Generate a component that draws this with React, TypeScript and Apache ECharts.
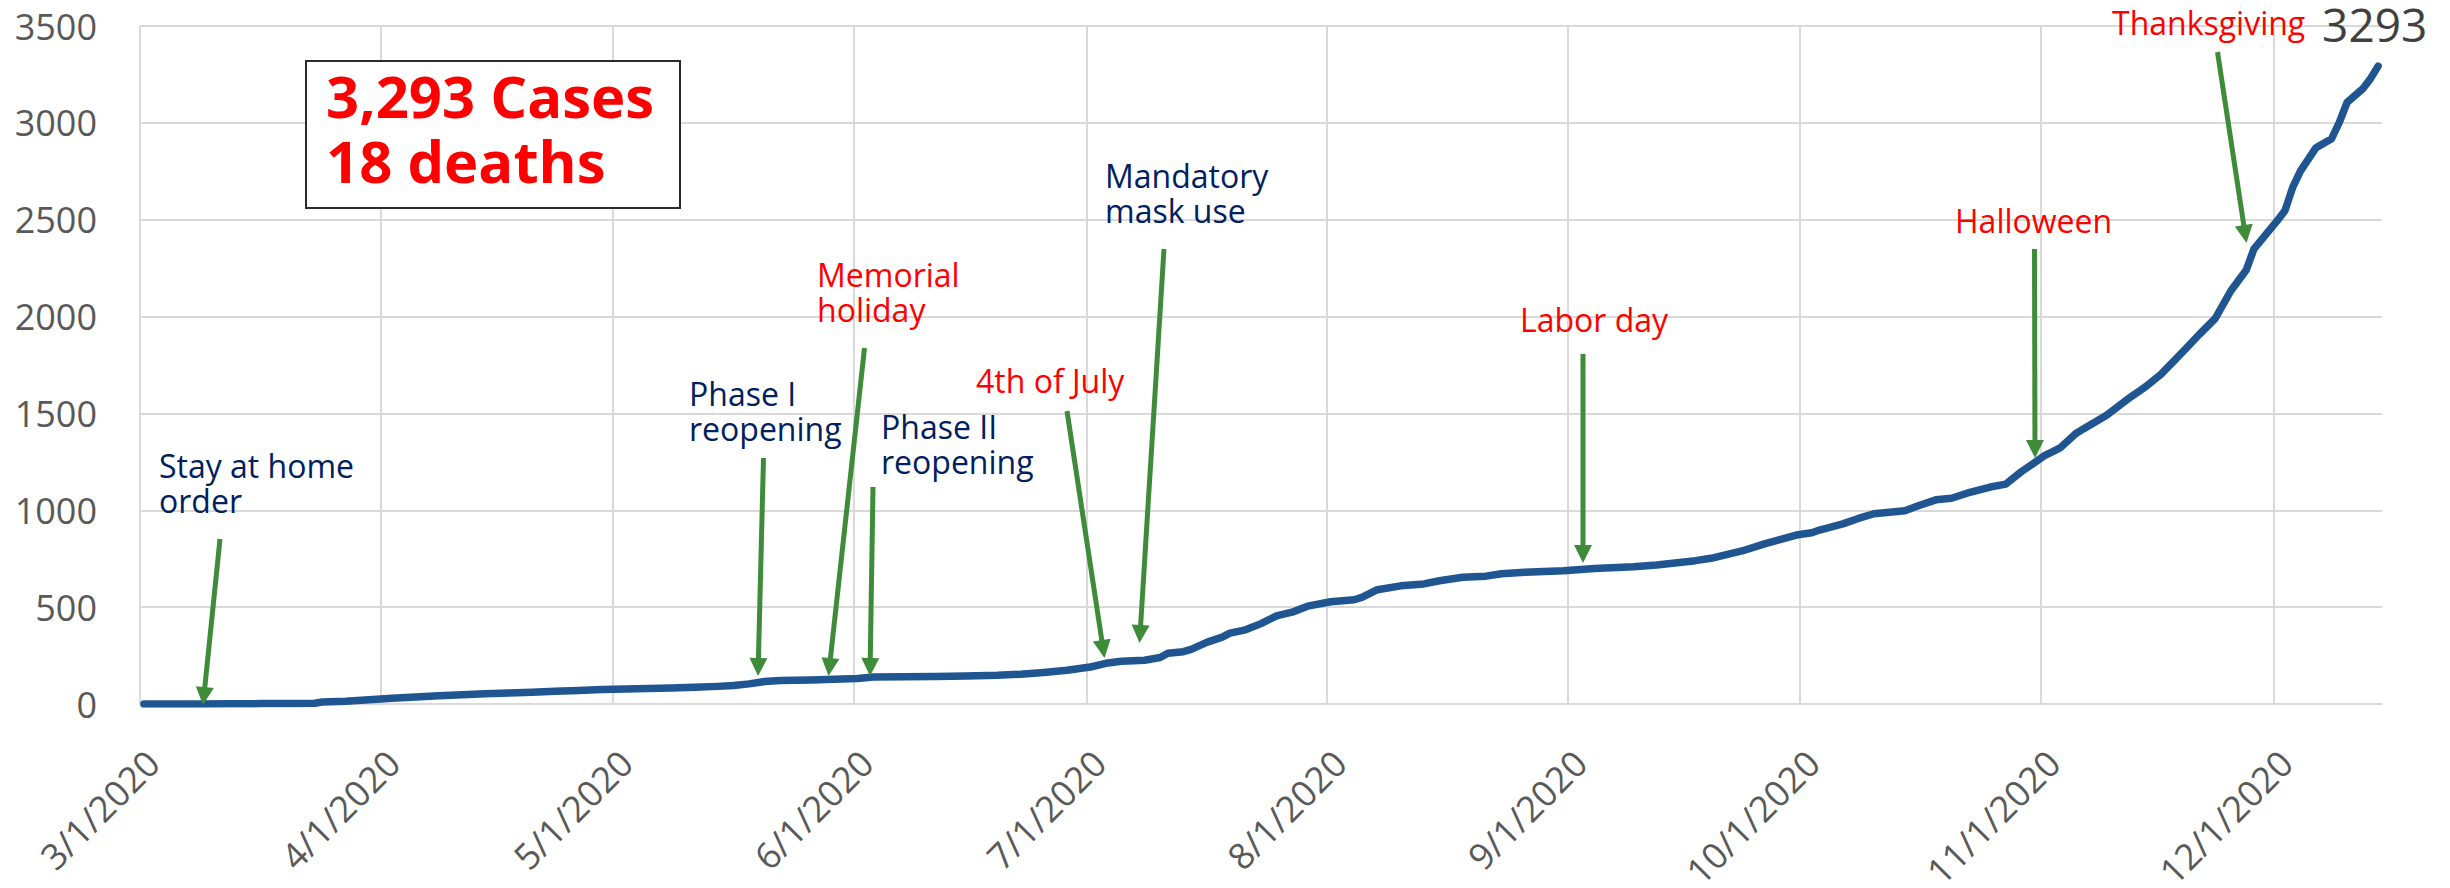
import React, { useEffect, useRef } from "react";
import * as echarts from "echarts";

const dates = [
  "2020-03-01", "2020-03-08", "2020-03-12", "2020-03-16", "2020-03-20", "2020-03-23", "2020-03-24", "2020-03-27", "2020-03-31",
  "2020-04-02", "2020-04-05", "2020-04-08", "2020-04-11", "2020-04-14", "2020-04-17", "2020-04-20", "2020-04-23", "2020-04-26", "2020-04-29",
  "2020-05-02", "2020-05-05", "2020-05-08", "2020-05-11", "2020-05-14", "2020-05-16", "2020-05-18", "2020-05-20", "2020-05-22", "2020-05-26", "2020-05-29",
  "2020-06-01", "2020-06-03", "2020-06-07", "2020-06-11", "2020-06-15", "2020-06-19", "2020-06-22", "2020-06-25", "2020-06-28",
  "2020-07-01", "2020-07-03", "2020-07-05", "2020-07-08", "2020-07-10", "2020-07-11", "2020-07-13", "2020-07-14", "2020-07-16", "2020-07-18", "2020-07-19", "2020-07-21", "2020-07-23", "2020-07-25", "2020-07-27", "2020-07-29",
  "2020-08-01", "2020-08-04", "2020-08-05", "2020-08-07", "2020-08-10", "2020-08-13", "2020-08-15", "2020-08-18", "2020-08-21", "2020-08-23", "2020-08-26", "2020-08-31",
  "2020-09-04", "2020-09-09", "2020-09-12", "2020-09-17", "2020-09-19", "2020-09-23", "2020-09-26", "2020-09-28", "2020-09-30",
  "2020-10-02", "2020-10-03", "2020-10-06", "2020-10-08", "2020-10-10", "2020-10-14", "2020-10-16", "2020-10-18", "2020-10-20", "2020-10-22", "2020-10-25", "2020-10-27", "2020-10-29",
  "2020-11-01", "2020-11-02", "2020-11-03", "2020-11-05", "2020-11-06", "2020-11-09", "2020-11-12", "2020-11-14", "2020-11-16", "2020-11-19", "2020-11-21", "2020-11-23", "2020-11-25", "2020-11-27", "2020-11-28",
  "2020-12-01", "2020-12-02", "2020-12-03", "2020-12-04", "2020-12-06", "2020-12-08", "2020-12-09", "2020-12-10", "2020-12-12", "2020-12-13", "2020-12-14",
];

const cases = [
  0, 0, 1, 2, 3, 4, 10, 14, 24,
  30, 36, 43, 48, 53, 57, 61, 66, 70, 75,
  78, 80, 83, 86, 91, 95, 104, 116, 121, 124, 128,
  132, 139, 141, 142, 144, 148, 154, 163, 174,
  191, 210, 221, 226, 240, 262, 270, 282, 318, 345, 366, 383, 415, 455, 474, 505,
  528, 538, 550, 590, 610, 620, 636, 654, 660, 672, 680, 688,
  699, 708, 718, 740, 752, 790, 828, 850, 872,
  884, 898, 930, 958, 982, 998, 1027, 1054, 1062, 1088, 1120, 1135, 1199,
  1282, 1302, 1322, 1395, 1420, 1491, 1582, 1637, 1702, 1826, 1910, 1990, 2132, 2240, 2350,
  2495, 2548, 2668, 2752, 2872, 2918, 3003, 3106, 3175, 3227, 3293,
];

const yTicks = [0, 500, 1000, 1500, 2000, 2500, 3000, 3500];
const axisStart = "2020-03-01";
const axisEnd = "2020-12-15";

const summaryLines = ["3,293 Cases", "18 deaths"];

const NAVY = "#002060";
const RED = "#FF0000";
const GREEN = "#3E8C3A";
const FONT = '"Open Sans", "DejaVu Sans", sans-serif';

// annotation texts: [text, left, capTop, color]
const notes: [string, number, number, string][] = [
  ["Stay at home\norder", 159, 455, NAVY],
  ["Phase I\nreopening", 689, 383, NAVY],
  ["Memorial\nholiday", 817, 264, RED],
  ["Phase II\nreopening", 881, 416, NAVY],
  ["4th of July", 976, 370, RED],
  ["Mandatory\nmask use", 1105, 165, NAVY],
  ["Labor day", 1520, 309, RED],
  ["Halloween", 1955, 210, RED],
  ["Thanksgiving", 2112, 12, RED],
];

// arrows: [x1, y1, x2(tip), y2(tip)]
const arrows: [number, number, number, number][] = [
  [220, 539, 203, 705],
  [763.5, 458, 758, 676],
  [864.5, 348, 828.5, 676],
  [873, 487, 870, 676],
  [1067, 411, 1104.5, 658],
  [1164, 249, 1139.5, 643],
  [1583, 354, 1583, 563],
  [2034.5, 249, 2035, 458],
  [2217.5, 52, 2246.5, 243],
];

function arrowEls(a: [number, number, number, number]) {
  const [x1, y1, x2, y2] = a;
  const dx = x2 - x1;
  const dy = y2 - y1;
  const L = Math.hypot(dx, dy);
  const ux = dx / L;
  const uy = dy / L;
  const hl = 18;
  const hw = 9;
  const bx = x2 - ux * hl;
  const by = y2 - uy * hl;
  const px = -uy;
  const py = ux;
  return [
    {
      type: "line",
      z: 100,
      shape: { x1, y1, x2: bx + ux * 2, y2: by + uy * 2 },
      style: { stroke: GREEN, lineWidth: 5 },
    },
    {
      type: "polygon",
      z: 100,
      shape: {
        points: [
          [x2, y2],
          [bx + px * hw, by + py * hw],
          [bx - px * hw, by - py * hw],
        ],
      },
      style: { fill: GREEN },
    },
  ];
}

export default function App() {
  const ref = useRef<HTMLDivElement>(null);

  useEffect(() => {
    document.body.style.margin = "0";
    if (!ref.current) return;
    const chart = echarts.init(ref.current, undefined, { renderer: "svg" });

    const seriesData = dates.map((d, i) => [new Date(d + "T12:00:00").getTime(), cases[i]]);

    const graphics: any[] = [];
    graphics.push({
      type: "rect",
      z: 100,
      shape: { x: 306, y: 61, width: 374, height: 147 },
      style: { fill: "#ffffff", stroke: "#2b2b2b", lineWidth: 2 },
    });
    graphics.push({
      type: "text",
      z: 101,
      x: 326,
      y: 63,
      style: {
        text: summaryLines.join("\n"),
        fill: RED,
        font: `bold 58px ${FONT}`,
        lineHeight: 65,
        verticalAlign: "top",
        align: "left",
      },
    });
    notes.forEach(([t, x, capTop, color]) => {
      graphics.push({
        type: "text",
        z: 101,
        x,
        y: capTop - 7,
        style: {
          text: t,
          fill: color,
          font: `32px ${FONT}`,
          lineHeight: 35,
          verticalAlign: "top",
          align: "left",
        },
      });
    });
    arrows.forEach((a) => graphics.push(...arrowEls(a)));

    chart.setOption({
      animation: false,
      backgroundColor: "#ffffff",
      grid: {
        left: 140,
        right: 68,
        top: 26,
        bottom: 184,
        containLabel: false,
        outerBoundsMode: "none",
      },
      xAxis: {
        type: "time",
        min: new Date(axisStart + "T00:00:00").getTime(),
        max: new Date(axisEnd + "T00:00:00").getTime(),
        splitNumber: 10,
        minInterval: 28 * 86400000,
        maxInterval: 31 * 86400000,
        axisLine: { show: false },
        axisTick: { show: false },
        splitLine: { show: true, showMaxLine: false, lineStyle: { color: "#d9d9d9", width: 2 } },
        axisLabel: {
          rotate: 45,
          margin: 40,
          align: "right",
          verticalAlign: "top",
          fontSize: 36,
          fontFamily: FONT,
          color: "#595959",
          showMaxLabel: false,
          formatter: (val: number) => {
            const d = new Date(val);
            if (d.getDate() !== 1) return "";
            return `${d.getMonth() + 1}/1/${d.getFullYear()}`;
          },
        },
      },
      yAxis: {
        type: "value",
        min: yTicks[0],
        max: yTicks[yTicks.length - 1],
        interval: yTicks[1] - yTicks[0],
        axisLine: { show: false },
        axisTick: { show: false },
        splitLine: { show: true, lineStyle: { color: "#d9d9d9", width: 2 } },
        axisLabel: {
          margin: 43,
          fontSize: 36,
          fontFamily: FONT,
          color: "#595959",
          formatter: (v: number) => String(v),
        },
      },
      series: [
        {
          type: "line",
          data: seriesData,
          showSymbol: false,
          symbol: "none",
          z: 5,
          lineStyle: { color: "#1F5590", width: 7.5, cap: "round", join: "round" },
          endLabel: {
            show: true,
            formatter: (p: any) => String(p.value[1]),
            fontSize: 46,
            fontFamily: FONT,
            color: "#404040",
            offset: [-64, -42],
          },
        },
      ],
      graphic: graphics,
    });

    return () => chart.dispose();
  }, []);

  return <div ref={ref} style={{ width: 2450, height: 888 }} />;
}
